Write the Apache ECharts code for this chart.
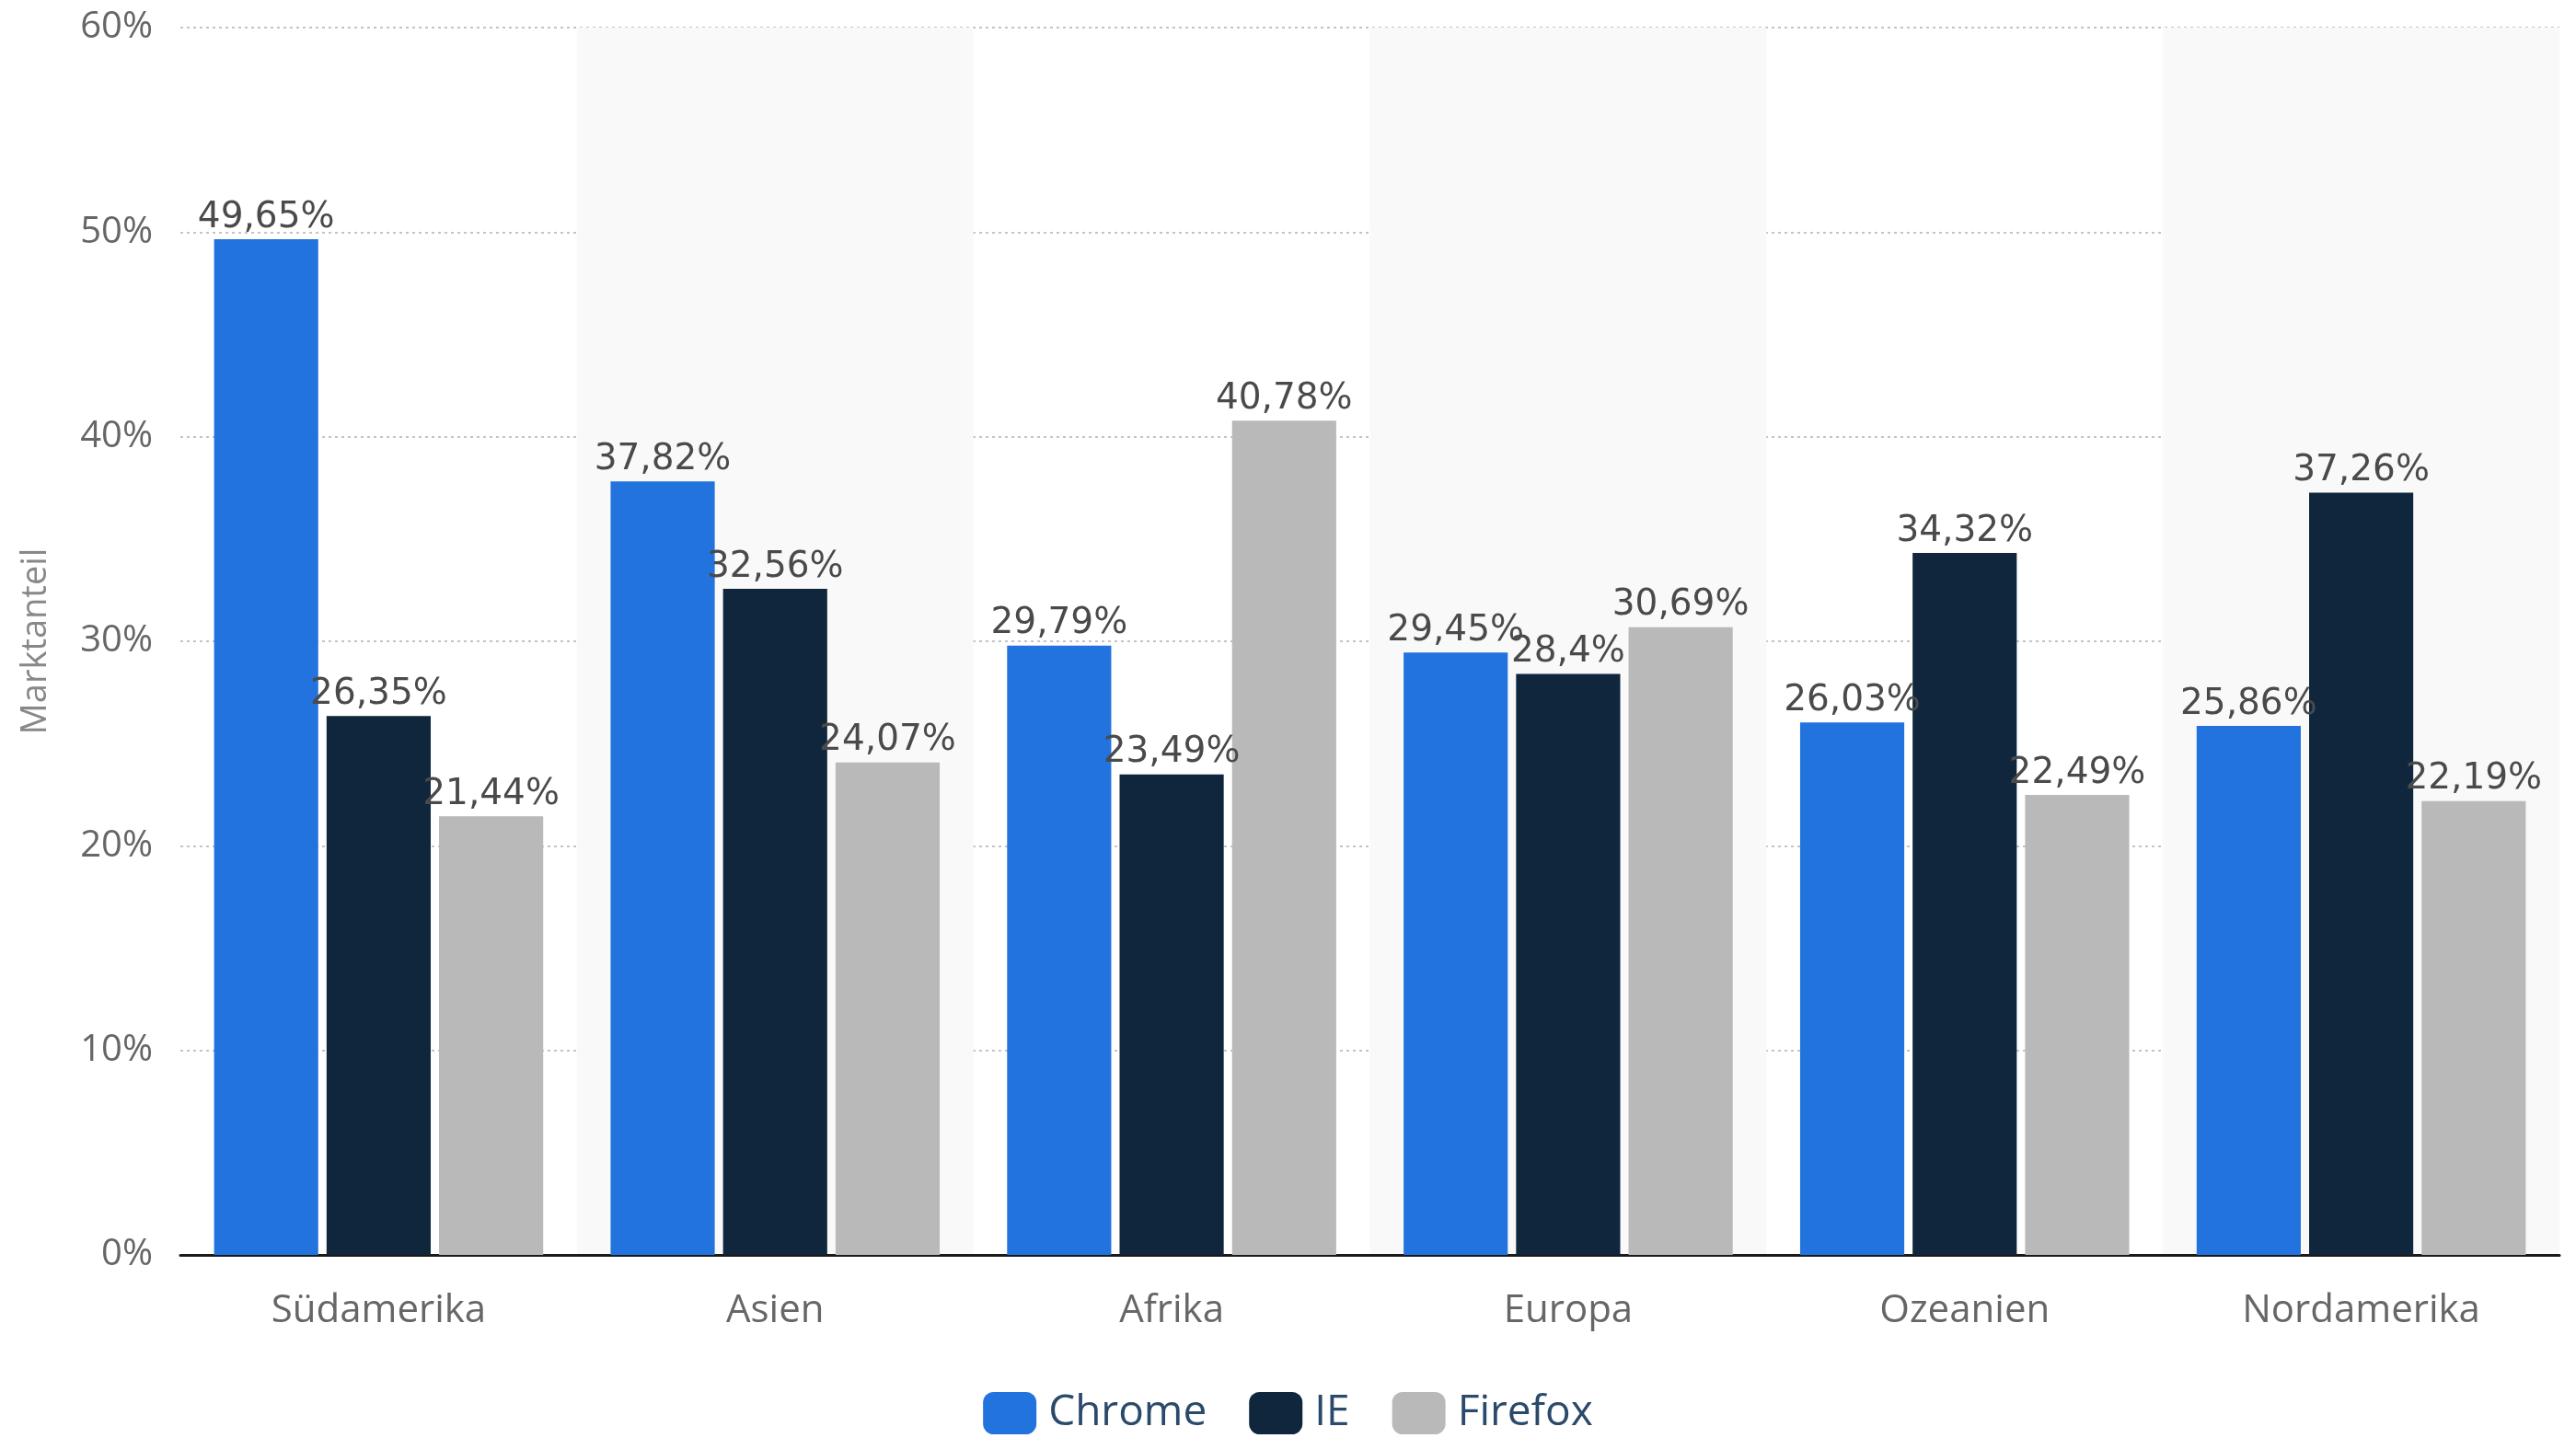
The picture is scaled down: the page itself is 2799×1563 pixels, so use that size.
<!DOCTYPE html>
<html>
<head>
<meta charset="utf-8">
<script src="https://cdn.jsdelivr.net/npm/echarts@6/dist/echarts.min.js"></script>
<style>html,body{margin:0;padding:0;background:#fff}#c{width:2799px;height:1563px}</style>
</head>
<body>
<div id="c"></div>
<script>
const categories = ['Südamerika', 'Asien', 'Afrika', 'Europa', 'Ozeanien', 'Nordamerika'];
const chrome = [49.65, 37.82, 29.79, 29.45, 26.03, 25.86];
const ie = [26.35, 32.56, 23.49, 28.4, 34.32, 37.26];
const firefox = [21.44, 24.07, 40.78, 30.69, 22.49, 22.19];
const yTicks = [0, 10, 20, 30, 40, 50, 60];

const fmt = v => String(v).replace('.', ',') + '%';
const labelStyle = {
  show: true, position: 'top', distance: 4,
  fontFamily: 'DejaVu Sans', fontSize: 39, color: '#4a4a4a',
  formatter: p => fmt(p.value)
};
function mk(name, data, color) {
  return {
    name, type: 'bar', data, barGap: '8%', barCategoryGap: '17%',
    itemStyle: { color }, label: labelStyle
  };
}
const chart = echarts.init(document.getElementById('c'), null, { renderer: 'canvas' });
chart.setOption({
  animation: false,
  grid: { left: 196, right: 18, top: 30, bottom: 199, containLabel: false },
  xAxis: {
    type: 'category', data: categories,
    axisLine: { show: true, lineStyle: { color: '#1a1a1a', width: 3 } },
    axisTick: { show: false },
    axisLabel: { fontFamily: 'Open Sans', fontSize: 42, color: '#666', margin: 40 },
    splitArea: { show: true, areaStyle: { color: ['rgba(255,255,255,0)', '#f9f9f9'] } }
  },
  yAxis: {
    type: 'value', min: yTicks[0], max: yTicks[yTicks.length - 1], interval: 10,
    name: 'Marktanteil', nameLocation: 'middle', nameGap: 138, nameRotate: 90,
    nameTextStyle: { fontFamily: 'Open Sans', fontSize: 38, color: '#888' },
    axisLine: { show: false }, axisTick: { show: false },
    axisLabel: { formatter: '{value}%', fontFamily: 'Open Sans', fontSize: 40, color: '#666', margin: 30 },
    splitLine: { show: true, lineStyle: { color: '#c4c4c4', width: 2, type: [3, 4] } }
  },
  legend: {
    top: 1508, left: 'center', itemWidth: 58, itemHeight: 46, itemGap: 46,
    icon: 'roundRect',
    textStyle: { fontFamily: 'Open Sans', fontSize: 46, color: '#2b4a6b', padding: [0, 0, 0, 8] },
    data: ['Chrome', 'IE', 'Firefox']
  },
  series: [
    mk('Chrome', chrome, '#2273dd'),
    mk('IE', ie, '#0f263d'),
    mk('Firefox', firefox, '#b9b9b9')
  ]
});
</script>
</body>
</html>
